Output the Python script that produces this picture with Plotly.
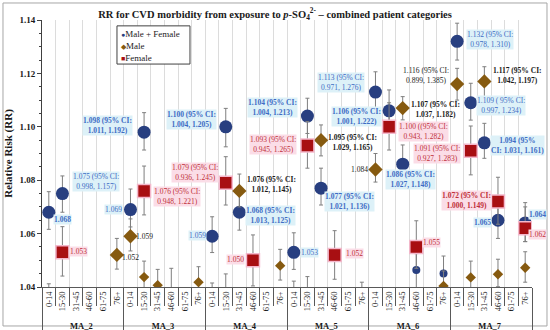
import plotly.graph_objects as go

groups = ["MA_2", "MA_3", "MA_4", "MA_5", "MA_6", "MA_7"]
ages = ["0-14", "15-30", "31-45", "46-60", "61-75", "76+"]

# ---- Male + Female (RR, error-bar upper, error-bar lower), 6 ages per group ----
mf_rr = [1.068, 1.075, None, None, None, None,
         1.069, 1.098, None, None, None, None,
         1.059, 1.100, 1.068, None, None, None,
         1.053, 1.104, 1.077, None, None, None,
         1.113, 1.106, 1.086, 1.0464, None, 1.0451,
         1.132, 1.109, 1.094, 1.065, None, 1.064]
mf_hi = [1.0757, 1.0816, None, None, None, None,
         1.0767, 1.1053, None, None, None, None,
         1.0663, 1.1069, 1.0750, None, None, None,
         1.0603, 1.1107, 1.0845, None, None, None,
         1.1206, 1.1138, 1.0932, 1.0525, None, 1.0516,
         1.1388, 1.1163, 1.1013, 1.0717, None, 1.0716]
mf_lo = [1.0616, 1.0680, None, None, None, None,
         1.0625, 1.0913, None, None, None, None,
         1.0529, 1.0925, 1.0613, None, None, None,
         1.0466, 1.0975, 1.0707, None, None, None,
         1.1060, 1.0990, 1.0795, 1.0395, None, 1.0390,
         1.1250, 1.1025, 1.0882, 1.0582, None, 1.0570]

# ---- Male ----
m_rr = [1.030, None, None, None, None, 1.052,
        1.059, 1.0437, 1.0407, 1.036, None, 1.0418,
        1.031, 1.034, 1.076, None, None, 1.048,
        1.032, 1.033, 1.095, None, None, 1.032,
        1.084, None, 1.107, None, None, 1.0404,
        1.116, 1.0436, 1.117, 1.0448, None, 1.0472]
m_hi = [1.0412, None, None, None, None, 1.0582,
        1.0655, 1.0497, 1.0466, 1.0470, None, 1.0476,
        1.0415, 1.0449, 1.0823, None, None, 1.0541,
        1.0422, 1.0439, 1.1007, None, None, 1.0418,
        1.0900, None, 1.1113, None, None, 1.0460,
        1.1219, 1.0497, 1.1225, 1.0504, None, 1.0532]
m_lo = [1.020, None, None, None, None, 1.0467,
        1.0535, 1.038, 1.035, 1.028, None, 1.036,
        1.021, 1.024, 1.0700, None, None, 1.0426,
        1.022, 1.023, 1.0891, None, None, 1.022,
        1.0793, None, 1.1026, None, None, 1.034,
        1.1100, 1.038, 1.1107, 1.0401, None, 1.0418]

# ---- Female ----
f_rr = [None, 1.053, None, None, None, None,
        None, 1.076, None, None, None, None,
        None, 1.079, None, 1.050, None, None,
        None, 1.093, None, 1.052, None, None,
        None, 1.100, None, 1.055, None, None,
        None, 1.091, None, 1.072, None, 1.062]
f_hi = [None, 1.0626, None, None, None, None,
        None, 1.0853, None, None, None, None,
        None, 1.0888, None, 1.0595, None, None,
        None, 1.1020, None, 1.0611, None, None,
        None, 1.1090, None, 1.0648, None, None,
        None, 1.1003, None, 1.0811, None, 1.0700]
f_lo = [None, 1.0441, None, None, None, None,
        None, 1.0670, None, None, None, None,
        None, 1.0707, None, 1.0404, None, None,
        None, 1.0845, None, 1.0429, None, None,
        None, 1.0913, None, 1.0470, None, None,
        None, 1.0820, None, 1.0635, None, 1.0570]

# ---- data labels: index -> (text, bold) ----
mf_labels = {
    0: ("1.068", True), 1: ("1.075 (95% CI:<br>0.998, 1.157)", False),
    6: ("1.069", False), 7: ("1.098 (95% CI:<br>1.011, 1.192)", True),
    12: ("1.059", False), 13: ("1.100 (95% CI:<br>1.004, 1.205)", True),
    14: ("1.068 (95% CI:<br>1.013, 1.125)", True),
    18: ("1.053", False), 19: ("1.104 (95% CI:<br>1.004, 1.213)", True),
    20: ("1.077 (95% CI:<br>1.021, 1.136)", True),
    24: ("1.113 (95% CI:<br>0.971, 1.276)", False), 25: ("1.106 (95% CI:<br>1.001, 1.222)", True),
    26: ("1.086 (95% CI:<br>1.027, 1.148)", True),
    30: ("1.132 (95% CI:<br>0.978, 1.310)", False), 31: ("1.109 ( 95% CI:<br>0.997, 1.234)", False),
    32: ("1.094 (95%<br>CI: 1.031, 1.161)", True), 33: ("1.065", True), 35: ("1.064", True),
}
m_labels = {
    5: ("1.052", False), 6: ("1.059", False),
    14: ("1.076 (95% CI:<br>1.012, 1.145)", True),
    20: ("1.095 (95% CI:<br>1.029, 1.165)", True),
    24: ("1.084", False), 26: ("1.107 (95% CI:<br>1.037, 1.182)", True),
    30: ("1.116 (95% CI:<br>0.899, 1.385)", False), 32: ("1.117 (95% CI:<br>1.042, 1.197)", True),
}
f_labels = {
    1: ("1.053", False), 7: ("1.076 (95% CI:<br>0.948, 1.221)", False),
    13: ("1.079 (95% CI:<br>0.936, 1.245)", False), 15: ("1.050", False),
    19: ("1.093 (95% CI:<br>0.945, 1.265)", False), 21: ("1.052", False),
    25: ("1.100 ((95% CI:<br>0.943, 1.282)", False), 27: ("1.055", False),
    31: ("1.091 (95% CI:<br>0.927, 1.283)", False), 33: ("1.072 (95% CI:<br>1.000, 1.149)", True),
    35: ("1.062", False),
}

# ---- label placement (layout only): index -> (xanchor, xshift px, yshift px) ----
mf_pos = {0: ("left", 4, -7), 1: ("left", 10, 12), 6: ("right", -7, 0), 7: ("right", -11, 7),
          12: ("right", -5, 1), 13: ("right", -9, 7), 14: ("left", 6, -3), 18: ("left", 6, 0),
          19: ("right", -9, 9), 20: ("left", 3, -13), 24: ("right", -10, 10), 25: ("right", -7, -6),
          26: ("center", 8, -15), 30: ("left", 9, 2), 31: ("left", 5, -3), 32: ("left", 6, -3),
          33: ("right", -6, -2), 35: ("left", 3, 8)}
m_pos = {5: ("left", 4, -3), 6: ("left", 5, 0), 14: ("left", 7, 6), 20: ("left", 6, -2),
         24: ("right", -6, 0), 26: ("left", 7, -1), 30: ("right", -7, 9), 32: ("left", 8, 6)}
f_pos = {1: ("left", 7, 1), 7: ("left", 9, -6), 13: ("right", -7, 10), 15: ("right", -8, 1),
         19: ("right", -10, 1), 21: ("left", 10, 1), 25: ("left", 9, -5), 27: ("left", 6, 4),
         31: ("right", -10, -3), 33: ("right", -6, 1), 35: ("left", 3, -6)}

SERIF = "Liberation Serif"
x_cat = [[f"<b>{g}</b>" for g in groups for a in ages], [a for g in groups for a in ages]]


def errs(v, hi, lo):
    plus = [None if a is None else h - a for a, h in zip(v, hi)]
    minus = [None if a is None else a - l for a, l in zip(v, lo)]
    return plus, minus


fig = go.Figure()
series = [
    ("Male + Female", mf_rr, mf_hi, mf_lo, mf_labels, mf_pos, "circle", "#283F80", (13, 8),
     dict(color="#283F80", width=0), "#3E6CC4", "#DDF1F8", "●"),
    ("Male", m_rr, m_hi, m_lo, m_labels, m_pos, "diamond", "#865A10", (11, 8),
     dict(color="#865A10", width=0), "#1A1A1A", None, "◆"),
    ("Female", f_rr, f_hi, f_lo, f_labels, f_pos, "square", "#A80F12", (13, 9),
     dict(color="#F4B8CC", width=1.5), "#C0303A", "#FBDDE7", "■"),
]
annotations = []
legend_rows = []
for name, v, hi, lo, labs, pos, sym, col, (big, small), line, tcol, bg, glyph in series:
    plus, minus = errs(v, hi, lo)
    sizes = [big if i in labs else small for i in range(len(v))]
    fig.add_trace(go.Scatter(
        x=x_cat, y=v, mode="markers", name=name, showlegend=False,
        marker=dict(symbol=sym, color=col, size=sizes, line=line, opacity=1),
        error_y=dict(type="data", symmetric=False, array=plus, arrayminus=minus,
                     color="#7F7F7F", thickness=1, width=2),
    ))
    legend_rows.append((name, col, glyph))
    for i, (txt, bold) in labs.items():
        xa, dx, dy = pos[i]
        annotations.append(dict(
            x=i, y=v[i], xref="x", yref="y", text=(f"<b>{txt}</b>" if bold else txt),
            showarrow=False, xanchor=xa, yanchor="middle", xshift=dx, yshift=dy,
            font=dict(family=SERIF, size=7.5, color=tcol), bgcolor=bg, borderpad=0,
            align="center"))

# compact boxed legend
leg_y = [0.948, 0.903, 0.858]
for (name, col, glyph), yy in zip(legend_rows, leg_y):
    annotations.append(dict(
        x=0.158, y=yy, xref="paper", yref="paper", showarrow=False, xanchor="left", yanchor="middle",
        text=f"<span style='color:{col};font-size:7px'>{glyph}</span>{name}",
        font=dict(family=SERIF, size=9, color="#1A1A1A")))

fig.update_layout(
    width=550, height=330,
    margin=dict(l=42, r=18, t=20, b=43, autoexpand=False),
    paper_bgcolor="white", plot_bgcolor="white", showlegend=False,
    title=dict(text="<b>RR for CVD morbidity from exposure to <i>p</i>-SO<sub>4</sub><sup>2-</sup> – combined patient categories</b>",
               x=0.5, xanchor="center", y=0.957, yanchor="middle", yref="container",
               font=dict(family=SERIF, size=10.5, color="#1A1A1A")),
    font=dict(family=SERIF, color="#1A1A1A"),
    annotations=annotations,
    shapes=[dict(type="rect", xref="paper", yref="paper", x0=-0.0796, x1=1.0306, y0=-0.146, y1=1.0637,
                 line=dict(color="#A6A6A6", width=1), layer="below"),
            dict(type="rect", xref="paper", yref="paper", x0=0.153, x1=0.302, y0=0.835, y1=0.978,
                 line=dict(color="#404040", width=1), fillcolor="white", layer="above")],
)
fig.update_xaxes(type="multicategory", tickson="boundaries", showgrid=True, gridcolor="#DCDCDC",
                 gridwidth=1, ticks="outside", ticklen=18, tickcolor="#595959", tickangle=-90,
                 tickfont=dict(family=SERIF, size=8.5, color="#1A1A1A"), showline=True,
                 linecolor="#595959", dividercolor="#595959", dividerwidth=1, range=[-0.5, 35.5],
                 automargin=False)
fig.update_yaxes(range=[1.04, 1.14], tick0=1.04, dtick=0.02, tickformat=".2f", ticks="outside",
                 ticklen=4, tickcolor="#404040", showgrid=False, showline=True, linecolor="#404040",
                 zeroline=False, automargin=False,
                 tickfont=dict(family=SERIF, size=9, color="#1A1A1A", weight="bold"),
                 minor=dict(dtick=0.005, ticks="outside", ticklen=2, tickcolor="#404040"),
                 title=dict(text="<b>Relative Risk (RR)</b>", font=dict(family=SERIF, size=11), standoff=4))

fig.write_html("out.html", config={"displayModeBar": False},
               post_script="document.body.style.margin='0';document.body.style.padding='0';")
